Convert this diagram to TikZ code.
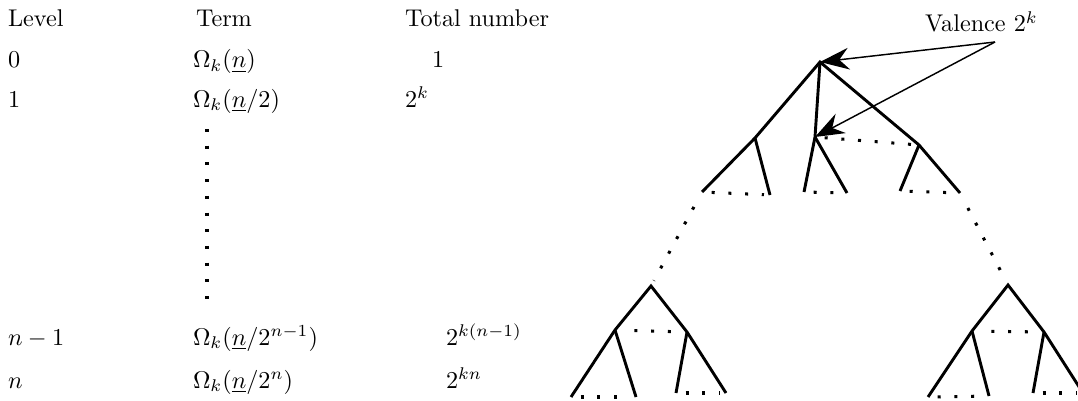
\documentclass[tikz,border=0pt]{standalone}
\usetikzlibrary{arrows.meta}
\begin{document}
\begin{tikzpicture}[x=0.413pt,y=-0.413pt,
  lbl/.style={anchor=base west,inner sep=0pt,outer sep=0pt},
  edge/.style={line width=1.2pt},
  dotline/.style={line width=1.25pt,dash pattern=on 1.25pt off 5.65pt,dash phase=2.9pt,shorten >=2.5pt},
  middots/.style={dotline,shorten <=4pt,shorten >=4pt},
  longdots/.style={dotline,shorten <=3pt},
  vdots/.style={line width=1.25pt,dash pattern=on 1.25pt off 5.65pt},
  pointer/.style={line width=0.6pt,-{Stealth[length=12pt,width=9pt,inset=4pt]}}]
\useasboundingbox (0,0) rectangle (1078,400);
% table
\node[lbl] (hl) at (8,27) {Level};
\node[lbl] (ht) at (196,27) {Term};
\node[lbl] (hn) at (405,27) {Total number};
\node[lbl] (l0) at (8,68) {$0$};
\node[lbl] (t0) at (193,68) {$\Omega_k(\underline{n})$};
\node[lbl] (n0) at (432,68) {$1$};
\node[lbl] (l1) at (8,107) {$1$};
\node[lbl] (t1) at (193,107) {$\Omega_k(\underline{n}/2)$};
\node[lbl] (n1) at (405,107) {$2^k$};
\node[lbl] (l2) at (8,345) {$n-1$};
\node[lbl] (t2) at (193,345) {$\Omega_k(\underline{n}/2^{n-1})$};
\node[lbl] (n2) at (446,345) {$2^{k(n-1)}$};
\node[lbl] (l3) at (8,388) {$n$};
\node[lbl] (t3) at (193,388) {$\Omega_k(\underline{n}/2^n)$};
\node[lbl] (n3) at (446,388) {$2^{kn}$};
\coordinate (vd1) at (207,129);
\coordinate (vd2) at (207,299.2);
\draw[vdots] (vd1) -- (vd2);
% upper tree
\coordinate (R) at (820,62);
\coordinate (A) at (755,138);
\coordinate (A1) at (702,192);
\coordinate (A2) at (770,195);
\coordinate (B) at (815,137);
\coordinate (B1) at (804,192);
\coordinate (B2) at (847,193);
\coordinate (C) at (919,145);
\coordinate (C1) at (900,191);
\coordinate (C2) at (960,193);
\draw[edge] (A1) -- (A) -- (R) -- (C) -- (C2);
\draw[edge] (A) -- (A2);
\draw[edge] (R) -- (B) -- (B1);
\draw[edge] (B) -- (B2);
\draw[edge] (C) -- (C1);
\draw[dotline] (B) -- (C);
\draw[dotline] (A1) -- (A2);
\draw[dotline] (B1) -- (B2);
\draw[dotline] (C1) -- (C2);
% lower left tree
\coordinate (L) at (651,286);
\coordinate (La) at (615,330);
\coordinate (Lb) at (687,332);
\coordinate (La1) at (571,397);
\coordinate (La2) at (636,397);
\coordinate (Lb1) at (676,393);
\coordinate (Lb2) at (726,393);
\draw[edge] (La1) -- (La) -- (L) -- (Lb) -- (Lb2);
\draw[edge] (La) -- (La2);
\draw[edge] (Lb) -- (Lb1);
\draw[middots] (La) -- (Lb);
\draw[dotline] (La1) -- (La2);
\draw[dotline] (Lb1) -- (Lb2);
% lower right tree
\coordinate (M) at (1008,285);
\coordinate (Ma) at (972,331);
\coordinate (Mb) at (1044,332);
\coordinate (Ma1) at (928,397);
\coordinate (Ma2) at (989,396);
\coordinate (Mb1) at (1033,393);
\coordinate (Mb2) at (1083,393);
\draw[edge] (Ma1) -- (Ma) -- (M) -- (Mb) -- (Mb2);
\draw[edge] (Ma) -- (Ma2);
\draw[edge] (Mb) -- (Mb1);
\draw[middots] (Ma) -- (Mb);
\draw[dotline] (Ma1) -- (Ma2);
\draw[dotline] (Mb1) -- (Mb2);
% long dotted links
\draw[longdots] (A1) -- (L);
\draw[longdots] (C2) -- (M);
% valence label
\node[lbl] (val) at (925,32) {Valence $2^k$};
\coordinate (vs) at (995,42);
\draw[pointer] (vs) -- (R);
\draw[pointer] (vs) -- (B);
\end{tikzpicture}
\end{document}
